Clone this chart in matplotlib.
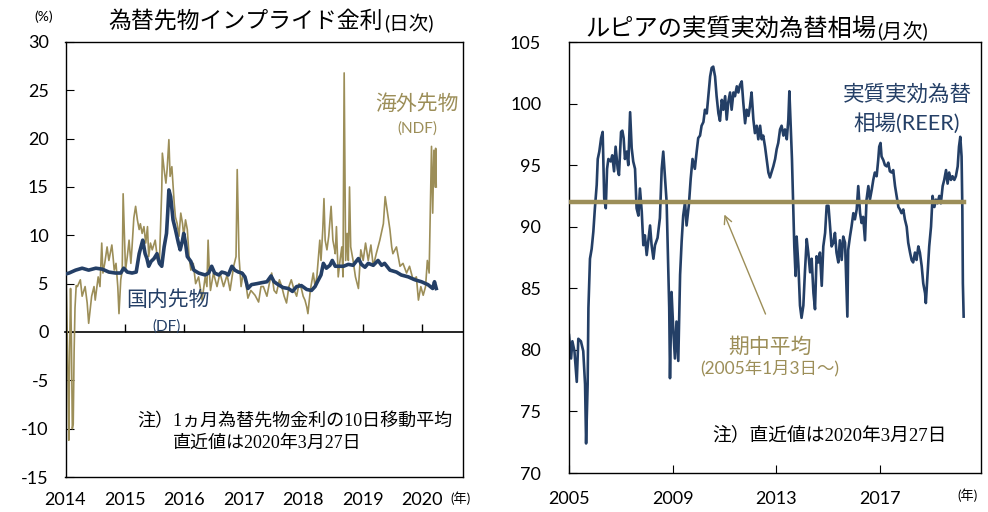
import matplotlib
matplotlib.use('Agg')
import matplotlib.pyplot as plt
import numpy as np

plt.rcParams['font.family'] = ['Lato', 'Noto Sans CJK JP']
plt.rcParams['axes.unicode_minus'] = False

# 為替先物インプライド金利 (日次) : NDF
ndf_year = [2014.00, 2014.02, 2014.04, 2014.055, 2014.07, 2014.085, 2014.10, 2014.115, 2014.13, 2014.145,
            2014.16, 2014.18, 2014.20, 2014.25, 2014.28, 2014.33, 2014.365, 2014.39, 2014.44, 2014.48,
            2014.50, 2014.55, 2014.58, 2014.61, 2014.63, 2014.66, 2014.70, 2014.73, 2014.78, 2014.80,
            2014.82, 2014.85, 2014.88, 2014.90, 2014.93, 2014.955, 2014.97, 2014.995, 2015.01, 2015.04,
            2015.07, 2015.10, 2015.12, 2015.15, 2015.18, 2015.21, 2015.24, 2015.26, 2015.29, 2015.32,
            2015.35, 2015.38, 2015.40, 2015.43, 2015.46, 2015.51, 2015.55, 2015.58, 2015.62, 2015.63,
            2015.66, 2015.69, 2015.71, 2015.74, 2015.76, 2015.79, 2015.83, 2015.85, 2015.88, 2015.91,
            2015.94, 2015.97, 2015.99, 2016.02, 2016.05, 2016.08, 2016.11, 2016.15, 2016.19, 2016.24,
            2016.30, 2016.35, 2016.38, 2016.40, 2016.42, 2016.44, 2016.49, 2016.55, 2016.60, 2016.66,
            2016.72, 2016.77, 2016.83, 2016.87, 2016.89, 2016.92, 2016.955, 2016.99, 2017.02, 2017.07,
            2017.12, 2017.19, 2017.25, 2017.29, 2017.33, 2017.39, 2017.43, 2017.47, 2017.51, 2017.55,
            2017.60, 2017.64, 2017.68, 2017.72, 2017.76, 2017.80, 2017.85, 2017.89, 2017.93, 2017.97,
            2018.00, 2018.03, 2018.06, 2018.08, 2018.12, 2018.17, 2018.20, 2018.23, 2018.28, 2018.30,
            2018.33, 2018.35, 2018.37, 2018.40, 2018.43, 2018.46, 2018.47, 2018.50, 2018.53, 2018.54,
            2018.56, 2018.59, 2018.62, 2018.65, 2018.67, 2018.69, 2018.715, 2018.74, 2018.76, 2018.78,
            2018.80, 2018.84, 2018.88, 2018.93, 2018.97, 2019.01, 2019.05, 2019.095, 2019.14, 2019.18,
            2019.23, 2019.29, 2019.35, 2019.38, 2019.42, 2019.46, 2019.49, 2019.51, 2019.57, 2019.63,
            2019.68, 2019.74, 2019.79, 2019.85, 2019.905, 2019.94, 2019.98, 2020.02, 2020.06, 2020.09,
            2020.12, 2020.145, 2020.16, 2020.18, 2020.20, 2020.22, 2020.23, 2020.24]
ndf_rate = [8.8, 3.0, -4.0, -11.2, -2.0, 4.5, -1.0, -10.0, -9.5, -2.0,
            2.5, 4.8, 4.7, 5.4, 3.7, 4.7, 3.0, 0.9, 3.7, 4.7,
            3.3, 5.7, 4.7, 9.2, 6.1, 7.1, 8.8, 7.4, 9.0, 7.8,
            6.4, 7.1, 4.7, 1.9, 5.4, 6.4, 14.3, 9.5, 6.4, 7.8,
            9.5, 7.1, 8.8, 11.8, 13.0, 11.6, 10.6, 11.2, 10.2, 10.9,
            9.2, 10.9, 7.8, 9.2, 8.5, 9.5, 7.4, 7.1, 14.7, 18.5,
            16.8, 15.4, 16.8, 19.9, 16.1, 17.1, 13.3, 11.9, 11.2, 9.9,
            12.3, 11.2, 9.9, 11.6, 10.6, 7.8, 6.4, 7.1, 5.0, 5.7,
            3.3, 5.7, 4.7, 9.5, 6.4, 4.3, 6.1, 4.7, 6.1, 4.7,
            5.9, 4.3, 6.8, 7.8, 16.8, 7.8, 4.7, 6.1, 5.7, 3.5,
            4.3, 3.8, 3.1, 4.7, 4.7, 3.7, 5.0, 6.1, 4.3, 4.0,
            5.4, 4.7, 3.7, 3.0, 4.7, 5.4, 4.3, 3.7, 5.0, 4.5,
            3.7, 3.3, 2.6, 1.9, 4.3, 6.1, 4.7, 5.7, 9.5, 7.4,
            10.6, 13.8, 9.5, 8.5, 9.9, 12.3, 13.0, 9.5, 8.5, 8.1,
            10.9, 5.7, 7.4, 8.8, 5.7, 26.8, 7.4, 10.2, 7.4, 15.0,
            8.8, 7.4, 5.7, 4.5, 8.5, 7.4, 9.2, 7.4, 9.0, 6.8,
            8.1, 9.5, 11.2, 14.0, 12.3, 10.6, 8.8, 8.1, 8.8, 6.8,
            7.1, 6.1, 6.8, 5.4, 5.7, 3.3, 4.7, 3.8, 4.7, 7.4,
            6.1, 14.3, 19.2, 12.3, 18.8, 15.0, 19.0, 15.0]

# 国内先物 (DF)
df_year = [2014.00, 2014.06, 2014.17, 2014.28, 2014.39, 2014.51, 2014.62, 2014.73, 2014.84, 2014.93,
           2014.98, 2015.04, 2015.12, 2015.19, 2015.24, 2015.27, 2015.30, 2015.34, 2015.37, 2015.40,
           2015.44, 2015.49, 2015.54, 2015.58, 2015.62, 2015.66, 2015.70, 2015.72, 2015.74, 2015.77,
           2015.81, 2015.85, 2015.90, 2015.93, 2015.97, 2015.99, 2016.02, 2016.05, 2016.11, 2016.16,
           2016.24, 2016.35, 2016.41, 2016.46, 2016.51, 2016.58, 2016.63, 2016.69, 2016.74, 2016.80,
           2016.85, 2016.91, 2016.97, 2017.02, 2017.07, 2017.13, 2017.22, 2017.30, 2017.39, 2017.46,
           2017.51, 2017.58, 2017.66, 2017.75, 2017.82, 2017.89, 2017.97, 2018.06, 2018.14, 2018.20,
           2018.24, 2018.30, 2018.34, 2018.39, 2018.45, 2018.49, 2018.54, 2018.59, 2018.68, 2018.76,
           2018.84, 2018.93, 2018.98, 2019.04, 2019.095, 2019.18, 2019.26, 2019.32, 2019.37, 2019.46,
           2019.57, 2019.65, 2019.77, 2019.88, 2019.99, 2020.10, 2020.18, 2020.21, 2020.24]
df_rate = [6.0, 6.1, 6.4, 6.6, 6.4, 6.6, 6.5, 6.2, 6.1, 6.1,
           6.6, 6.2, 6.1, 6.2, 8.1, 8.8, 9.5, 8.1, 7.6, 6.8,
           7.3, 7.6, 8.1, 7.1, 6.8, 8.8, 10.2, 12.3, 14.7, 14.0,
           11.6, 10.6, 9.2, 8.5, 9.5, 10.2, 9.2, 7.8, 7.3, 6.4,
           6.1, 5.9, 6.1, 6.8, 6.1, 5.9, 6.2, 6.1, 5.9, 6.8,
           6.4, 6.2, 6.1, 5.7, 4.5, 4.9, 5.0, 5.1, 5.2, 5.8,
           5.2, 4.9, 4.6, 4.5, 4.2, 4.7, 4.8, 4.4, 4.3, 4.7,
           5.2, 5.9, 7.1, 6.6, 6.9, 7.4, 6.8, 6.8, 6.8, 7.0,
           6.9, 7.6, 7.0, 6.7, 7.1, 6.9, 7.4, 6.9, 7.1, 6.4,
           6.2, 5.9, 5.7, 5.4, 5.2, 4.9, 4.5, 5.2, 4.5]

# ルピアの実質実効為替相場
reer_year = [2005.00, 2005.08, 2005.13, 2005.21, 2005.30, 2005.36, 2005.46, 2005.55, 2005.62, 2005.66,
             2005.72, 2005.75, 2005.81, 2005.875, 2005.94, 2006.00, 2006.07, 2006.11, 2006.17, 2006.24,
             2006.30, 2006.36, 2006.42, 2006.47, 2006.52, 2006.61, 2006.67, 2006.74, 2006.80, 2006.88,
             2006.93, 2007.01, 2007.06, 2007.11, 2007.16, 2007.23, 2007.29, 2007.36, 2007.42, 2007.48,
             2007.55, 2007.61, 2007.68, 2007.74, 2007.81, 2007.87, 2007.93, 2008.00, 2008.06, 2008.13,
             2008.19, 2008.26, 2008.32, 2008.42, 2008.51, 2008.58, 2008.64, 2008.71, 2008.77, 2008.84,
             2008.87, 2008.90, 2008.96, 2009.03, 2009.09, 2009.15, 2009.22, 2009.29, 2009.35, 2009.41,
             2009.48, 2009.54, 2009.63, 2009.70, 2009.77, 2009.86, 2009.93, 2009.99, 2010.06, 2010.12,
             2010.19, 2010.25, 2010.32, 2010.38, 2010.45, 2010.51, 2010.57, 2010.64, 2010.70, 2010.77,
             2010.83, 2010.90, 2010.96, 2011.03, 2011.09, 2011.15, 2011.22, 2011.28, 2011.35, 2011.41,
             2011.48, 2011.54, 2011.60, 2011.67, 2011.73, 2011.80, 2011.86, 2011.93, 2011.99, 2012.05,
             2012.12, 2012.18, 2012.25, 2012.31, 2012.38, 2012.44, 2012.50, 2012.57, 2012.63, 2012.70,
             2012.76, 2012.83, 2012.89, 2012.96, 2013.02, 2013.08, 2013.15, 2013.21, 2013.28, 2013.34,
             2013.41, 2013.47, 2013.51, 2013.56, 2013.61, 2013.65, 2013.70, 2013.75, 2013.79, 2013.86,
             2013.92, 2013.98, 2014.05, 2014.11, 2014.18, 2014.24, 2014.31, 2014.37, 2014.44, 2014.50,
             2014.56, 2014.63, 2014.69, 2014.76, 2014.82, 2014.89, 2014.95, 2015.02, 2015.08, 2015.14,
             2015.21, 2015.27, 2015.33, 2015.40, 2015.46, 2015.53, 2015.59, 2015.66, 2015.71, 2015.75,
             2015.78, 2015.85, 2015.91, 2015.98, 2016.04, 2016.11, 2016.17, 2016.24, 2016.30, 2016.36,
             2016.43, 2016.49, 2016.56, 2016.62, 2016.69, 2016.75, 2016.81, 2016.88, 2016.94, 2016.98,
             2017.03, 2017.07, 2017.14, 2017.20, 2017.27, 2017.33, 2017.39, 2017.46, 2017.52, 2017.59,
             2017.65, 2017.72, 2017.78, 2017.84, 2017.91, 2017.97, 2018.04, 2018.10, 2018.17, 2018.23,
             2018.29, 2018.36, 2018.42, 2018.49, 2018.55, 2018.62, 2018.68, 2018.75, 2018.78, 2018.85,
             2018.91, 2018.98, 2019.04, 2019.11, 2019.17, 2019.23, 2019.30, 2019.36, 2019.43, 2019.49,
             2019.56, 2019.62, 2019.68, 2019.75, 2019.81, 2019.88, 2019.94, 2020.01, 2020.06, 2020.11,
             2020.16, 2020.19, 2020.21, 2020.24]
reer_value = [81.2, 79.3, 80.7, 79.9, 77.4, 80.9, 80.7, 79.9, 77.2, 72.4,
              77.2, 83.4, 87.4, 88.2, 89.6, 91.5, 93.4, 95.5, 96.1, 97.2,
              97.7, 92.3, 91.5, 94.7, 95.5, 95.3, 95.8, 94.5, 96.5, 94.7,
              94.2, 97.7, 97.8, 97.2, 95.5, 96.1, 95.0, 99.3, 96.4, 95.3,
              94.7, 91.5, 90.9, 93.1, 91.2, 88.5, 89.3, 87.7, 88.8, 90.1,
              88.5, 87.4, 88.5, 89.1, 90.7, 94.7, 96.1, 93.9, 92.0, 86.1,
              83.4, 77.7, 84.7, 81.5, 79.3, 82.3, 79.1, 86.1, 88.8, 90.9,
              92.0, 90.1, 91.8, 93.9, 95.5, 94.7, 96.1, 97.2, 97.4, 98.2,
              98.5, 99.5, 99.2, 100.6, 102.2, 102.9, 103.0, 102.2, 100.6, 99.2,
              98.6, 100.3, 99.5, 100.6, 98.7, 100.1, 100.9, 99.5, 100.9, 100.6,
              101.4, 100.9, 101.5, 101.8, 100.1, 98.4, 99.5, 99.0, 99.8, 100.9,
              98.7, 97.6, 98.2, 97.1, 98.2, 97.1, 97.4, 96.5, 95.5, 94.4,
              94.0, 94.5, 94.9, 95.5, 96.3, 96.8, 97.9, 98.2, 97.4, 97.9,
              97.1, 98.7, 101.0, 98.2, 95.5, 92.2, 88.4, 86.0, 89.2, 86.8,
              83.6, 82.6, 83.6, 86.3, 89.0, 87.9, 86.3, 87.4, 84.6, 83.3,
              87.6, 87.1, 87.9, 85.2, 88.4, 89.5, 91.7, 91.7, 90.1, 88.4,
              88.7, 89.5, 87.9, 87.1, 88.9, 87.3, 89.2, 88.7, 85.2, 82.7,
              88.1, 89.2, 90.0, 91.1, 90.6, 91.4, 93.3, 91.1, 90.3, 90.8,
              88.9, 92.2, 93.3, 92.2, 93.0, 93.8, 94.4, 94.1, 95.4, 96.5,
              96.8, 95.7, 95.4, 95.0, 94.9, 95.2, 94.5, 94.4, 94.6, 93.3,
              92.5, 91.6, 91.4, 91.1, 91.4, 90.6, 90.0, 88.7, 87.9, 87.3,
              87.1, 87.9, 87.3, 88.4, 87.9, 86.8, 85.4, 84.6, 83.8, 86.2,
              88.4, 90.0, 92.5, 91.6, 92.2, 91.9, 92.5, 91.9, 93.3, 93.8,
              94.6, 93.5, 94.4, 93.8, 94.1, 93.8, 94.1, 94.9, 96.5, 97.3,
              95.7, 91.4, 85.4, 82.7]
reer_mean = 92.0

left_years = [2014, 2015, 2016, 2017, 2018, 2019, 2020]
right_years = [2005, 2009, 2013, 2017]

navy = '#243F66'
olive = '#9C8E58'
note_font = ['Liberation Serif', 'Noto Sans CJK JP']

W, H = 988, 512
def fx(x):
    return x / W
def fy(y):
    return 1 - y / H

fig = plt.figure(figsize=(9.88, 5.12), dpi=100)

# ---- left chart
ax1 = fig.add_axes([fx(65.5), fy(477), fx(463) - fx(65.5), fy(42) - fy(477)])
y_lo, y_hi = -15, 30
ax1.plot(ndf_year, ndf_rate, color=olive, lw=1.2, zorder=2)
ax1.plot(df_year, df_rate, color=navy, lw=2.6, zorder=3)
ax1.set_xlim(2014, 2020.69)
ax1.set_ylim(y_lo, y_hi)
ax1.set_yticks(range(y_lo, y_hi + 1, 5))
ax1.set_xticks(left_years)
ax1.set_xticklabels([str(y) for y in left_years])
ax1.tick_params(axis='x', length=0, pad=11, labelsize=13)
ax1.tick_params(axis='y', direction='in', length=6, pad=12, labelsize=13)
for s in ax1.spines.values():
    s.set_linewidth(1.0)

zero_pos = (0 - y_lo) / (y_hi - y_lo)
sec = ax1.secondary_xaxis(zero_pos)
sec.set_xticks(left_years[1:])
sec.tick_params(direction='in', length=6, width=1.0, labelbottom=False)
sec.spines['bottom'].set_linewidth(1.2)

fig.text(fx(383), fy(22), '為替先物インプライド金利', fontsize=16.5, ha='right', va='center')
fig.text(fx(384), fy(24), '(日次)', fontsize=14, ha='left', va='center')
fig.text(fx(44), fy(17), '(%)', fontsize=10, ha='center', va='center')
fig.text(fx(417), fy(104), '海外先物', fontsize=15, color=olive, ha='center', va='center')
fig.text(fx(417), fy(129), '(NDF)', fontsize=11, color=olive, ha='center', va='center')
fig.text(fx(168), fy(300), '国内先物', fontsize=15, color=navy, ha='center', va='center')
fig.text(fx(167), fy(327), '(DF)', fontsize=11, color=navy, ha='center', va='center')
fig.text(fx(137), fy(422), '注）1ヵ月為替先物金利の10日移動平均', fontsize=13,
         family=note_font, ha='left', va='center')
fig.text(fx(173), fy(443), '直近値は2020年3月27日', fontsize=13,
         family=note_font, ha='left', va='center')
fig.text(fx(450), fy(498), '(年)', fontsize=9.5, ha='left', va='center')

# ---- right chart
ax2 = fig.add_axes([fx(569), fy(473), fx(981) - fx(569), fy(42) - fy(473)])
ax2.plot(reer_year, reer_value, color=navy, lw=1.9, zorder=2)
ax2.plot([reer_year[0], reer_year[-1]], [reer_mean, reer_mean], color=olive, lw=3.2, zorder=3)
ax2.set_xlim(2005, 2020.91)
ax2.set_ylim(70, 105)
ax2.set_yticks(range(70, 106, 5))
ax2.set_xticks(right_years)
ax2.set_xticklabels([str(y) for y in right_years])
ax2.tick_params(axis='x', direction='in', length=6, pad=13, labelsize=13)
ax2.tick_params(axis='y', direction='in', length=6, pad=20, labelsize=13)
for s in ax2.spines.values():
    s.set_linewidth(1.0)

ax2.annotate('', xy=(2010.96, reer_mean - 0.8), xytext=(2012.63, 82.7),
             arrowprops=dict(arrowstyle='->', color=olive, lw=1.0, mutation_scale=14))

fig.text(fx(876), fy(28), 'ルピアの実質実効為替相場', fontsize=17.5, ha='right', va='center')
fig.text(fx(877), fy(30), '(月次)', fontsize=14.5, ha='left', va='center')
fig.text(fx(907), fy(95), '実質実効為替', fontsize=15.5, color=navy, ha='center', va='center')
fig.text(fx(907), fy(123), '相場(REER)', fontsize=15.5, color=navy, ha='center', va='center')
fig.text(fx(770), fy(347), '期中平均', fontsize=15, color=olive, ha='center', va='center')
fig.text(fx(770), fy(368), '(2005年1月3日～)', fontsize=12.5, color=olive, ha='center', va='center')
fig.text(fx(712), fy(435), '注）直近値は2020年3月27日', fontsize=13.5,
         family=note_font, ha='left', va='center')
fig.text(fx(967), fy(495), '(年)', fontsize=9.5, ha='center', va='center')

fig.savefig('out.png', dpi=100)
